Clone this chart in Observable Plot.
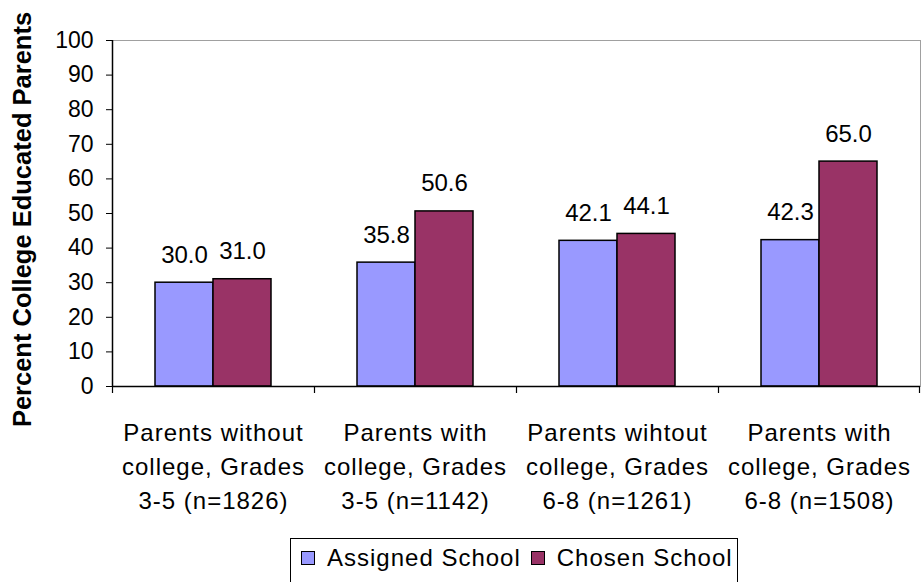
<!DOCTYPE html>
<html>
<head>
<meta charset="utf-8">
<script src="https://cdn.jsdelivr.net/npm/d3@7"></script>
<script src="https://cdn.jsdelivr.net/npm/@observablehq/plot@0.6"></script>
<style>
  html, body { margin: 0; padding: 0; background: #fff; }
  #wrap { position: relative; width: 922px; height: 582px; overflow: hidden; font-family: "Liberation Sans", Arial, sans-serif; }
  #chart svg { display: block; }
  #chart .xlab text { letter-spacing: 1px; }
  #legend { position: absolute; left: 290px; top: 538px; width: 448px; height: 60px; border: 1px solid #000; box-sizing: border-box; background: #fff;
    display: flex; align-items: flex-start; padding: 6px 0 0 10px; font-size: 24px; letter-spacing: 1px; line-height: 26px; color: #000; white-space: nowrap; }
  .item { display: flex; align-items: center; margin-right: 10px; flex-shrink: 0; }
  .sw { width: 12px; height: 12px; border: 1.2px solid #000; margin-right: 12px; flex-shrink: 0; }
</style>
</head>
<body>
<div id="wrap">
  <div id="chart"></div>
  <div id="legend"></div>
</div>
<script>
const categories = [
  "Parents without\ncollege, Grades\n3-5 (n=1826)",
  "Parents with\ncollege, Grades\n3-5 (n=1142)",
  "Parents wihtout\ncollege, Grades\n6-8 (n=1261)",
  "Parents with\ncollege, Grades\n6-8 (n=1508)"
];
const seriesNames = ["Assigned School", "Chosen School"];
const assigned = [30.0, 35.8, 42.1, 42.3];
const chosen = [31.0, 50.6, 44.1, 65.0];
const yTicks = [0, 10, 20, 30, 40, 50, 60, 70, 80, 90, 100];
const colors = ["#9999FF", "#993366"];
const yTitle = "Percent College Educated Parents";

const assignedRows = categories.map((c, i) => ({cat: c, value: assigned[i]}));
const chosenRows = categories.map((c, i) => ({cat: c, value: chosen[i]}));

const half = (922 - 112 - 2) / categories.length / 2;
const barW = 58;

const chart = Plot.plot({
  width: 922,
  height: 530,
  marginLeft: 112,
  marginRight: 2,
  marginTop: 40,
  marginBottom: 144,
  style: {fontFamily: "'Liberation Sans', Arial, sans-serif", color: "#000", background: "#fff"},
  x: {domain: categories, padding: 0, label: null},
  y: {domain: [0, 100], label: null},
  marks: [
    Plot.frame({stroke: "#a0a0a0", strokeWidth: 1}),
    Plot.barY(assignedRows, {x: "cat", y: "value", fill: colors[0], stroke: "#000", strokeWidth: 1.5,
      insetLeft: half - barW, insetRight: half}),
    Plot.barY(chosenRows, {x: "cat", y: "value", fill: colors[1], stroke: "#000", strokeWidth: 1.5,
      insetLeft: half, insetRight: half - barW}),
    Plot.text(assignedRows, {x: "cat", y: "value", text: d => d.value.toFixed(1), dx: -barW / 2, dy: -20,
      lineAnchor: "bottom", fontSize: 24, fill: "#000"}),
    Plot.text(chosenRows, {x: "cat", y: "value", text: d => d.value.toFixed(1), dx: barW / 2, dy: -20,
      lineAnchor: "bottom", fontSize: 24, fill: "#000"}),
    Plot.ruleY([0], {stroke: "#000", strokeWidth: 1.5}),
    Plot.ruleX([categories[0]], {x: d => d, dx: -half, stroke: "#000", strokeWidth: 1.5}),
    Plot.ruleX(categories, {x: d => d, dx: -half, y1: 0, y2: 0, insetBottom: -7, stroke: "#000", strokeWidth: 1.2}),
    Plot.ruleX([categories[categories.length - 1]], {x: d => d, dx: half - 1, y1: 0, y2: 0, insetBottom: -7, stroke: "#000", strokeWidth: 1.2}),
    Plot.axisY({ticks: yTicks, tickSize: 6, tickPadding: 13, fontSize: 23, label: null, tickFormat: d => String(d)}),
    Plot.axisX({tickSize: 0, tickPadding: 30, fontSize: 24, lineHeight: 1.42, label: null, className: "xlab"}),
    Plot.text([yTitle], {frameAnchor: "left", dx: -90, dy: 6, rotate: -90, text: d => d, fontSize: 25.5,
      fontWeight: "bold", fill: "#000", lineAnchor: "middle", textAnchor: "middle"})
  ]
});
document.getElementById("chart").appendChild(chart);

const legend = document.getElementById("legend");
seriesNames.forEach((name, i) => {
  const item = document.createElement("div");
  item.className = "item";
  const sw = document.createElement("span");
  sw.className = "sw";
  sw.style.background = colors[i];
  const label = document.createElement("span");
  label.textContent = name;
  item.appendChild(sw);
  item.appendChild(label);
  legend.appendChild(item);
});
</script>
</body>
</html>
